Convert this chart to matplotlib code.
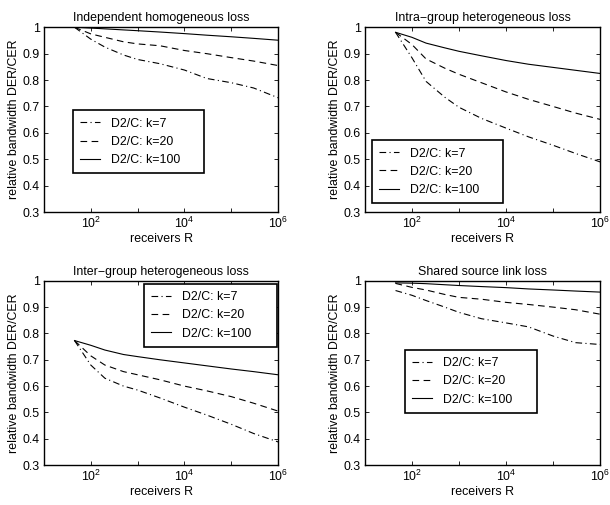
import numpy as np
import matplotlib
matplotlib.use("Agg")
import matplotlib.pyplot as plt
from matplotlib.ticker import FixedLocator, FuncFormatter, NullLocator

plt.rcParams['font.family'] = ['Liberation Sans', 'DejaVu Sans']
plt.rcParams['mathtext.default'] = 'regular'

# receivers R (shared grid for all panels)
receivers = [45, 100, 200, 500, 1e3, 3e3, 1e4, 3e4, 1e5, 3e5, 1e6]

titles = ["Independent homogeneous loss", "Intra\u2212group heterogeneous loss",
          "Inter\u2212group heterogeneous loss", "Shared source link loss"]
labels = ["D2/C: k=7", "D2/C: k=20", "D2/C: k=100"]

# independent homogeneous loss
ind_k7 = [1.0, 0.955, 0.925, 0.895, 0.878, 0.862, 0.838, 0.806, 0.79, 0.77, 0.733]
ind_k20 = [1.0, 0.975, 0.962, 0.945, 0.937, 0.93, 0.912, 0.90, 0.885, 0.872, 0.855]
ind_k100 = [1.0, 0.997, 0.994, 0.99, 0.987, 0.982, 0.976, 0.97, 0.964, 0.958, 0.951]

# intra-group heterogeneous loss
intra_k7 = [0.981, 0.885, 0.795, 0.735, 0.697, 0.655, 0.618, 0.585, 0.553, 0.522, 0.49]
intra_k20 = [0.981, 0.935, 0.88, 0.845, 0.822, 0.79, 0.755, 0.727, 0.70, 0.675, 0.651]
intra_k100 = [0.981, 0.962, 0.94, 0.922, 0.909, 0.892, 0.874, 0.86, 0.848, 0.837, 0.825]

# inter-group heterogeneous loss
inter_k7 = [0.773, 0.68, 0.63, 0.60, 0.585, 0.555, 0.52, 0.49, 0.455, 0.42, 0.388]
inter_k20 = [0.773, 0.715, 0.68, 0.655, 0.643, 0.624, 0.60, 0.582, 0.56, 0.535, 0.505]
inter_k100 = [0.773, 0.755, 0.737, 0.72, 0.712, 0.70, 0.688, 0.677, 0.665, 0.655, 0.643]

# shared source link loss
shared_k7 = [0.963, 0.945, 0.925, 0.90, 0.88, 0.856, 0.84, 0.825, 0.79, 0.765, 0.758]
shared_k20 = [0.99, 0.975, 0.965, 0.948, 0.937, 0.93, 0.918, 0.91, 0.90, 0.89, 0.873]
shared_k100 = [0.992, 0.991, 0.989, 0.985, 0.982, 0.978, 0.974, 0.969, 0.965, 0.961, 0.957]

panels = [
    (ind_k7, ind_k20, ind_k100),
    (intra_k7, intra_k20, intra_k100),
    (inter_k7, inter_k20, inter_k100),
    (shared_k7, shared_k20, shared_k100),
]

# axes rectangles in figure fractions
rects = [
    [0.072, 0.580, 0.384, 0.366],
    [0.598, 0.580, 0.386, 0.366],
    [0.072, 0.079, 0.384, 0.365],
    [0.598, 0.079, 0.386, 0.365],
]
# legend boxes (x0, top, width) in axes coords
legend_box = [
    (0.124, 0.551, 0.560),
    (0.030, 0.389, 0.557),
    (0.427, 0.984, 0.568),
    (0.170, 0.625, 0.562),
]

styles = [dict(linestyle=(0, (6, 3, 1, 3))),
          dict(linestyle=(0, (6, 4))),
          dict(linestyle='-')]

fs = 8.9
fig = plt.figure(figsize=(6.1, 5.05), dpi=100)

def fmt_x(v, pos):
    e = int(round(np.log10(v)))
    return f"$10^{{{e}}}$" if e % 2 == 0 else ""

for i, series in enumerate(panels):
    ax = fig.add_axes(rects[i])
    for ys, lab, st in zip(series, labels, styles):
        ax.plot(receivers, ys, color='black', linewidth=0.8, label=lab, **st)
    ax.set_xscale('log')
    ax.set_xlim(10, 1e6)
    ax.set_ylim(0.3, 1.0)
    ax.xaxis.set_major_locator(FixedLocator([10.0 ** e for e in range(1, 7)]))
    ax.xaxis.set_major_formatter(FuncFormatter(fmt_x))
    ax.xaxis.set_minor_locator(NullLocator())
    ax.set_yticks(np.arange(0.3, 1.01, 0.1))
    ax.set_yticklabels(['0.3', '0.4', '0.5', '0.6', '0.7', '0.8', '0.9', '1'])
    ax.tick_params(direction='in', top=True, right=True, length=3,
                   width=0.6, labelsize=fs, pad=3)
    for s in ax.spines.values():
        s.set_linewidth(1.0)
    ax.set_title(titles[i], fontsize=fs, pad=4.5)
    ax.set_xlabel('receivers R', fontsize=fs, labelpad=1)
    ax.set_ylabel('relative bandwidth DER/CER', fontsize=fs, labelpad=2)
    x0, top, w = legend_box[i]
    leg = ax.legend(loc='upper left', bbox_to_anchor=(x0, top - 0.36, w, 0.36),
                    mode='expand', borderaxespad=0,
                    fontsize=fs, fancybox=False, framealpha=1,
                    edgecolor='black', handlelength=1.6, handletextpad=0.9,
                    borderpad=0.6, labelspacing=0.5)
    leg.get_frame().set_linewidth(1.2)

fig.savefig('out.png', dpi=100)
